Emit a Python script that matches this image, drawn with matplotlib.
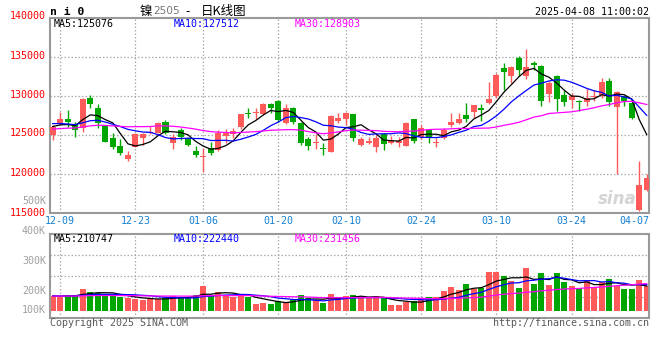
import numpy as np
import matplotlib
matplotlib.use("Agg")
import matplotlib.pyplot as plt
from matplotlib.transforms import ScaledTranslation

# ---------------- data ----------------
# daily candles, 2024-12-06 ... 2025-04-08 (80 trading days)
opens = [125000, 126400, 127050, 126450, 125850, 129700, 128500, 126200, 124600, 123650,
         121930, 123510, 124660, 125200, 125300, 126700, 123940, 125640, 124450, 123000,
         122200, 123380, 123080, 124920, 125130, 126070, 127860, 127780, 127690, 128980,
         129360, 126500, 128420, 126500, 124450, 123940, 123300, 122870, 126840, 127010,
         127650, 123720, 123940, 123510, 125130, 123940, 124020, 123640, 127050, 124790,
         125640, 123940, 124580, 126290, 126500, 127560, 128000, 128420, 129060, 129960,
         133590, 132520, 134870, 132520, 134230, 133890, 130260, 132520, 130180, 129450,
         129410, 129190, 129830, 130180, 131970, 128550, 129960, 129110, 115360, 118000]
highs = [126300, 128000, 128200, 126700, 129700, 130100, 129000, 126300, 125200, 124450,
         122960, 125200, 125200, 126150, 126710, 126900, 125090, 125940, 124700, 123600,
         123300, 124150, 125640, 125730, 125860, 127750, 128420, 128420, 129150, 129150,
         129490, 128980, 128630, 126700, 124790, 125130, 123940, 127500, 127780, 128000,
         127700, 124790, 124790, 125000, 125300, 124880, 124790, 126710, 127100, 126290,
         125730, 124580, 125860, 127860, 127780, 129060, 128900, 128930, 131840, 132950,
         134230, 133800, 135090, 136020, 134450, 133950, 131970, 132740, 130730, 130390,
         129540, 131030, 130820, 132310, 132310, 130690, 130180, 129450, 121720, 120010]
lows = [124400, 126300, 126000, 124700, 125400, 128400, 125850, 124100, 123200, 122450,
        121720, 123450, 123730, 125090, 125250, 125100, 123200, 124360, 123600, 122140,
        120300, 122440, 123000, 123940, 124580, 125730, 127140, 127010, 127560, 127860,
        126710, 126450, 126370, 123730, 123080, 123170, 122440, 122800, 126500, 126290,
        124280, 123640, 123900, 122870, 123080, 123810, 123510, 123600, 124020, 124450,
        123940, 123510, 124450, 126070, 126370, 126710, 127230, 126840, 128930, 129700,
        130820, 131670, 132520, 132180, 133380, 128770, 129190, 128040, 128680, 128470,
        128130, 128680, 129320, 129750, 128680, 120010, 128680, 127060, 115300, 117790]
closes = [126000, 127000, 126700, 125600, 129600, 129000, 126500, 124150, 123500, 122750,
          122440, 125130, 125130, 125250, 126580, 125300, 124790, 124700, 123730, 122440,
          122300, 122740, 125220, 125430, 125510, 127690, 127650, 128000, 128980, 128420,
          126930, 128420, 126710, 124020, 123640, 124150, 123170, 127440, 127230, 127780,
          124660, 124490, 124240, 124580, 123810, 124240, 124240, 126580, 124240, 125940,
          124580, 124150, 125640, 126710, 127050, 127010, 128850, 128210, 129600, 132700,
          133040, 133720, 133290, 133720, 133930, 129410, 131670, 129660, 129190, 130050,
          129190, 129750, 130050, 131760, 129190, 130470, 129410, 127190, 118650, 119500]
volumes = [126400, 120800, 134900, 132100, 185500, 163000, 154500, 134900, 126500, 120800,
           106700, 103900, 92700, 101200, 101200, 109600, 129300, 115200, 118000, 134900,
           210800, 126500, 163000, 134900, 120800, 143300, 120800, 59000, 70300, 59000,
           87100, 78700, 92700, 134900, 106700, 92700, 70300, 143300, 115200, 126500,
           132100, 106700, 106700, 126500, 106700, 50600, 50600, 78700, 87100, 106700,
           115200, 115200, 168600, 202300, 177000, 227600, 182900, 193900, 328800, 328800,
           295000, 252900, 193900, 362500, 227600, 320300, 219200, 320300, 244500, 210800,
           193900, 261300, 202300, 244500, 269800, 210800, 185500, 185500, 261300, 210800]
# closes / volumes of the days before the first visible candle
# (estimated so that the moving averages start where the picture shows them)
prior_closes = [124600, 125300, 124800, 125500, 124800,
                124200, 124900, 125400, 124500, 124000, 124700, 125100, 124600, 124300, 125300,
                126300, 127400, 127600, 126700,
                127800, 126900, 127300, 126500, 127100, 126400,
                125900, 126500, 126300, 125700]
prior_volumes = [121000, 128000, 124000, 131000, 119000, 126000, 133000, 122000, 127000, 118000,
                 125000, 130000, 121000, 128000, 124000, 127000, 132000, 120000, 126000, 123000,
                 129000, 125000, 122000, 128000, 126000, 124000, 131000, 123000, 127000]

tick_labels = ["12-09", "12-23", "01-06", "01-20", "02-10", "02-24", "03-10", "03-24", "04-07"]
tick_index = [1, 11, 20, 30, 39, 49, 59, 69, 78]
price_ticks = [140000, 135000, 130000, 125000, 120000, 115000]
vol_labels = ["500K", "400K", "300K", "200K", "100K"]
ma_price_text = ["MA5:125076", "MA10:127512", "MA30:128903"]
ma_vol_text = ["MA5:210747", "MA10:222440", "MA30:231456"]
title_code = "n i 0"
title_name = ["镍", "2505", "-", "日K线图"]
timestamp = "2025-04-08 11:00:02"
copyright_text = "Copyright 2025 SINA.COM"
url_text = "http://finance.sina.com.cn"

# ---------------- style ----------------
W, H = 660, 360
RED = "#ff5a5a"
GREEN = "#00a600"
MA_COLORS = ["#000000", "#0000ff", "#ff00ff"]
GRID = "#aaaaaa"
BORDER = "#9a9a9a"
MONO = "DejaVu Sans Mono"
CJK = ["Noto Sans CJK SC", "DejaVu Sans"]
FS = 7.2

O = np.array(opens, float); Hh = np.array(highs, float)
L = np.array(lows, float); C = np.array(closes, float)
V = np.array(volumes, float)
n = len(C)
x = np.arange(n)


def moving(a, w):
    return np.convolve(a, np.ones(w) / w, mode="valid")


allc = np.concatenate([prior_closes, C])
allv = np.concatenate([prior_volumes, V])
ma_p = [moving(allc, w)[-n:] for w in (5, 10, 30)]
ma_v = [moving(allv, w)[-n:] for w in (5, 10, 30)]

fig = plt.figure(figsize=(W / 100, H / 100), dpi=100)
fig.patch.set_facecolor("white")


def px(xp, yp):
    return xp / W, 1 - yp / H


ax = fig.add_axes([50 / W, 1 - 213 / H, 599 / W, 195 / H])
axv = fig.add_axes([50 / W, 1 - 318 / H, 599 / W, 84 / H])
xlim = (-0.36, 79.3)

up = C >= O
cols = np.where(up, RED, GREEN)

# ---- price panel ----
ax.set_xlim(*xlim)
ax.set_ylim(115000, 140000)
for p in price_ticks[1:-1]:
    ax.axhline(p, color=GRID, lw=0.9, ls=(0, (1.2, 1.6)), zorder=0)
for i in tick_index[:-1]:
    ax.axvline(i, color=GRID, lw=0.9, ls=(0, (1.2, 1.6)), zorder=0)
ax.vlines(x, L, Hh, colors=cols, lw=1.0, zorder=2)
ax.bar(x, np.maximum(np.abs(C - O), 130), bottom=np.minimum(O, C), width=0.8,
       color=cols, lw=0, zorder=3)
for m, c in zip(ma_p, MA_COLORS):
    ax.plot(x, m, color=c, lw=0.9, zorder=4)

ax.set_yticks(price_ticks)
ax.set_yticklabels([str(p) for p in price_ticks])
ax.tick_params(axis="y", length=0, pad=3.2, labelcolor="#ff0000", labelsize=FS)
for lab, off in zip(ax.get_yticklabels(), [3, 2.5, 2.5, 2.5, 2, 1]):
    lab.set_fontfamily(MONO)
    lab.set_transform(lab.get_transform() + ScaledTranslation(0, off / 100, fig.dpi_scale_trans))
ax.set_xticks(tick_index)
ax.set_xticklabels(tick_labels)
ax.tick_params(axis="x", length=0, pad=2.5, labelcolor="#1580d0", labelsize=FS)
xl = ax.get_xticklabels()
for lab in xl:
    lab.set_fontfamily(MONO)
xl[-1].set_transform(xl[-1].get_transform() + ScaledTranslation(-5 / 100, 0, fig.dpi_scale_trans))

# ---- volume panel ----
axv.set_xlim(*xlim)
vtop, vbot = 649000, -59000
axv.set_ylim(vbot, vtop)
for f in (0.25, 0.5, 0.75):
    axv.axhline(vbot + f * (vtop - vbot), color=GRID, lw=0.9, ls=(0, (1.2, 1.6)), zorder=0)
for i in tick_index[:-1]:
    axv.axvline(i, color=GRID, lw=0.9, ls=(0, (1.2, 1.6)), zorder=0)
axv.bar(x, V, width=0.8, color=cols, lw=0, zorder=2)
for m, c in zip(ma_v, MA_COLORS):
    axv.plot(x, m, color=c, lw=0.9, zorder=4)
axv.set_xticks([])
axv.set_yticks([])

for a in (ax, axv):
    for s in a.spines.values():
        s.set_color(BORDER)
        s.set_linewidth(1.5)

# ---- texts ----
for t, xp, c in zip(ma_price_text, (54, 174, 295), MA_COLORS):
    fig.text(*px(xp, 24), t, color=c, fontsize=FS, family=MONO, va="center", ha="left")
for t, xp, c in zip(ma_vol_text, (54, 174, 295), MA_COLORS):
    fig.text(*px(xp, 238.5), t, color=c, fontsize=FS, family=MONO, va="center", ha="left")

for t, yp in zip(vol_labels, (201, 231, 261, 291, 310)):
    fig.text(*px(46, yp), t, color="#a0a0a0", fontsize=FS, family=MONO, va="center", ha="right")

fig.text(*px(50, 12), title_code, fontsize=8.2, family=MONO, weight="bold", va="center", ha="left")
fig.text(*px(140, 11.5), title_name[0], fontsize=9, family=CJK, va="center", ha="left")
fig.text(*px(153, 11.5), title_name[1], fontsize=7.6, family=["DejaVu Sans"], color="#777777",
         va="center", ha="left")
fig.text(*px(185, 11.5), title_name[2], fontsize=9, family=CJK, va="center", ha="left")
fig.text(*px(201, 11.5), title_name[3], fontsize=9, family=CJK, va="center", ha="left")
fig.text(*px(649, 12.3), timestamp, fontsize=FS, family=MONO, va="center", ha="right")

fig.text(*px(50, 323.5), copyright_text, fontsize=FS, family=MONO, color="#5a5a5a",
         va="center", ha="left")
fig.text(*px(649, 323.5), url_text, fontsize=FS, family=MONO, color="#5a5a5a",
         va="center", ha="right")

# sina watermark
fig.text(*px(617, 199), "sina", fontsize=12, family="DejaVu Sans", style="italic",
         weight="bold", color="#d4d4d4", va="center", ha="center", zorder=1)

fig.savefig("out.png", dpi=100, facecolor="white")
